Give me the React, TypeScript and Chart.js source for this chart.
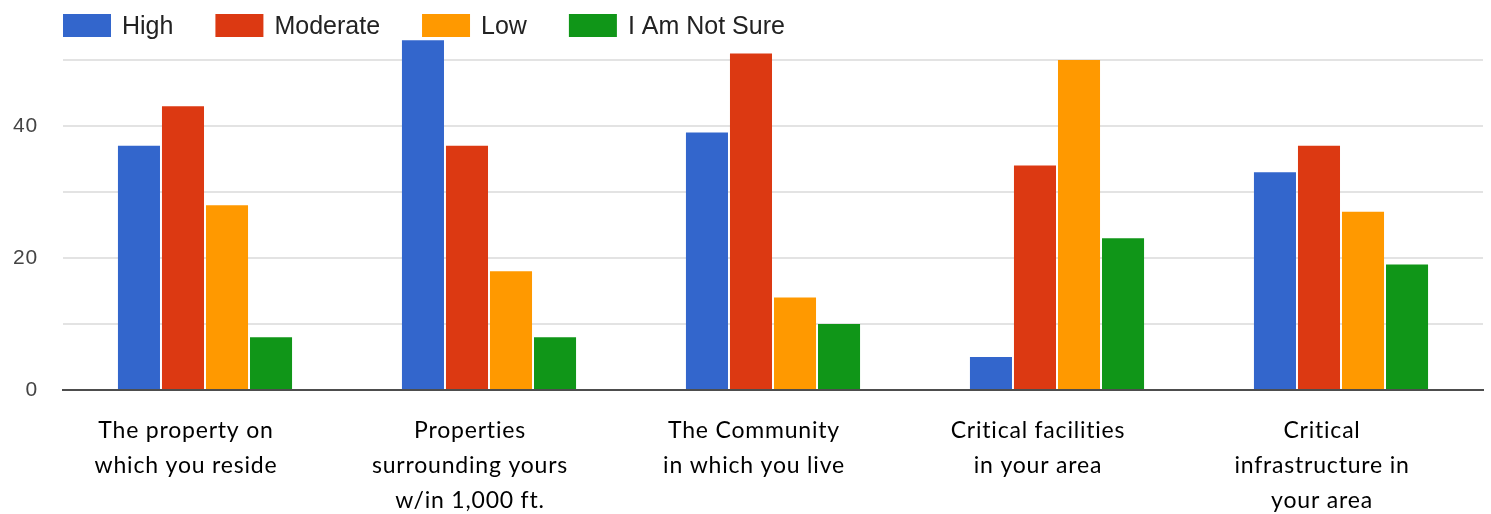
import { useEffect, useRef } from 'react';
import { Chart, registerables } from 'chart.js';

Chart.register(...registerables);

// Survey categories (multi-line axis labels)
const categories: string[][] = [
  ['The property on', 'which you reside'],
  ['Properties', 'surrounding yours', 'w/in 1,000 ft.'],
  ['The Community', 'in which you live'],
  ['Critical facilities', 'in your area'],
  ['Critical', 'infrastructure in', 'your area'],
];

const seriesNames = ['High', 'Moderate', 'Low', 'I Am Not Sure'];
const highValues = [37, 53, 39, 5, 33];
const moderateValues = [43, 37, 51, 34, 37];
const lowValues = [28, 18, 14, 50, 27];
const notSureValues = [8, 8, 10, 23, 19];
const seriesColors = ['#3366cc', '#dc3912', '#ff9900', '#109618'];

const yMax = 55;
const yGridStep = 10;
const yLabelStep = 20;

const W = 1491;
const H = 514;

// Slight tracking for axis text (also keeps "ti" from forming a ligature)
const textSpacing = {
  id: 'textSpacing',
  beforeDraw(chart: Chart) {
    (chart.ctx as any).letterSpacing = '0.8px';
  },
  afterDraw(chart: Chart) {
    (chart.ctx as any).letterSpacing = '0px';
  },
};

// Legend row drawn across the top of the canvas
const topLegend = {
  id: 'topLegend',
  afterDraw(chart: Chart) {
    const ctx = chart.ctx;
    ctx.save();
    (ctx as any).letterSpacing = '0px';
    ctx.font = '25px "Liberation Sans", Arial, sans-serif';
    ctx.textBaseline = 'middle';
    ctx.textAlign = 'left';
    let x = chart.chartArea.left;
    const boxW = 48;
    const boxH = 23;
    const boxTop = 14;
    chart.data.datasets.forEach((ds) => {
      ctx.fillStyle = ds.backgroundColor as string;
      ctx.fillRect(x, boxTop, boxW, boxH);
      x += boxW + 11;
      ctx.fillStyle = '#222222';
      const label = ds.label as string;
      ctx.fillText(label, x, boxTop + boxH / 2 + 2);
      x += ctx.measureText(label).width + 42;
    });
    ctx.restore();
  },
};

export default function App() {
  const canvasRef = useRef<HTMLCanvasElement | null>(null);

  useEffect(() => {
    document.body.style.margin = '0';
    const canvas = canvasRef.current;
    if (!canvas) return;
    const valueSets = [highValues, moderateValues, lowValues, notSureValues];
    const chart = new Chart(canvas, {
      type: 'bar',
      data: {
        labels: categories,
        datasets: seriesNames.map((name, i) => ({
          label: name,
          data: valueSets[i],
          backgroundColor: seriesColors[i],
          borderWidth: 0,
          barPercentage: 0.955,
          categoryPercentage: 0.62,
        })),
      },
      options: {
        responsive: false,
        animation: false,
        devicePixelRatio: 1,
        layout: { padding: { top: 27, right: 8, left: 0, bottom: 0 } },
        plugins: {
          legend: { display: false },
          tooltip: { enabled: false },
        },
        scales: {
          x: {
            grid: { display: false, drawTicks: false },
            border: { display: true, color: '#4d4d4d', width: 2 },
            ticks: {
              padding: 23,
              labelOffset: -19,
              maxRotation: 0,
              autoSkip: false,
              color: '#000000',
              font: { family: 'Lato, "Noto Sans", sans-serif', size: 23, lineHeight: '35px' },
            },
            afterFit(scale: any) {
              scale.height = 124;
              scale.paddingLeft = 0;
              scale.paddingRight = 0;
            },
          },
          y: {
            min: 0,
            max: yMax,
            grid: {
              drawTicks: false,
              lineWidth: 2,
              color: (c: any) => (c.tick && c.tick.value === 0 ? 'rgba(0,0,0,0)' : '#e3e3e3'),
            },
            border: { display: false },
            ticks: {
              stepSize: yGridStep,
              padding: 25,
              color: '#444444',
              font: { family: '"Liberation Sans", Arial, sans-serif', size: 21 },
              callback: (v: any) => (Number(v) % yLabelStep === 0 ? String(v) : ''),
            },
            afterBuildTicks(scale: any) {
              scale.ticks = scale.ticks.filter((t: any) => t.value % yGridStep === 0);
            },
            afterFit(scale: any) {
              scale.width = 63;
              scale.paddingTop = 0;
              scale.paddingBottom = 0;
            },
          },
        },
      },
      plugins: [textSpacing, topLegend],
    });
    return () => chart.destroy();
  }, []);

  return (
    <div style={{ width: W, height: H, background: '#ffffff' }}>
      <canvas ref={canvasRef} width={W} height={H} />
    </div>
  );
}
